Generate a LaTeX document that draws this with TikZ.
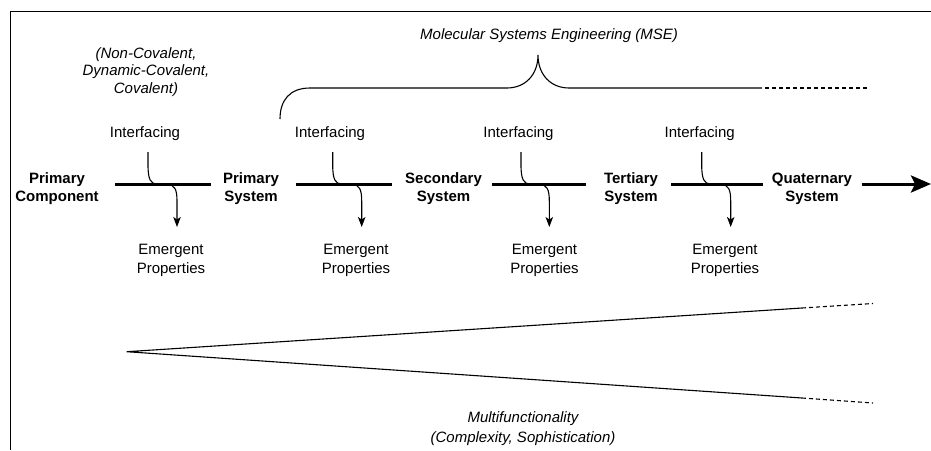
\documentclass[tikz,border=0pt]{standalone}
\usepackage{fontspec}
\setmainfont{Liberation Sans}
\usetikzlibrary{arrows.meta}
\begin{document}
\begin{tikzpicture}[x=1pt,y=-1pt,
  lbl/.style={font=\fontsize{15}{18.5}\selectfont, align=center, inner sep=0pt},
  sys/.style={font=\fontsize{15}{18.5}\selectfont\bfseries, align=center, inner sep=0pt},
  note/.style={font=\fontsize{15}{17.5}\selectfont\itshape, align=center, inner sep=0pt},
  foot/.style={font=\fontsize{15}{20}\selectfont\itshape, align=center, inner sep=0pt},
  bar/.style={line width=3pt},
  thin/.style={line width=1.1pt},
  frame/.style={line width=1.3pt},
  tail/.style={thin, dash pattern=on 4pt off 3pt},
  feed/.style={thin, -{Stealth[length=10pt,width=7.5pt,inset=2.5pt]}},
]
\useasboundingbox (0,0) rectangle (931,450);

% frame
\draw[frame] (10.5,450) -- (10.5,11.5) -- (931,11.5);

% titles
\node[note, anchor=base] (mse) at (549,39.3) {Molecular Systems Engineering (MSE)};
\node[note] (bonds) at (146,72) {(Non-Covalent,\\Dynamic-Covalent,\\Covalent)};

% brace
\coordinate (bl) at (280,119);
\coordinate (bt) at (538,55);
\coordinate (br) at (762,88);
\coordinate (bd) at (765,88);
\coordinate (be) at (867,88);
\draw[thin] (bl) .. controls (280,100) and (290,88) .. (310,88) -- (507,88)
  .. controls (525,88) and (538,75) .. (bt)
  .. controls (538,75) and (551,88) .. (569,88) -- (br);
\draw[tail] (bd) -- (be);

% system labels
\node[sys] (s0) at (57,188.7) {Primary\\Component};
\node[sys] (s1) at (251,188.7) {Primary\\System};
\node[sys] (s2) at (443.5,188.7) {Secondary\\System};
\node[sys] (s3) at (631,188.7) {Tertiary\\System};
\node[sys] (s4) at (812,188.7) {Quaternary\\System};

% interfacing steps: left, interface x, arrow x, right, label x, emergent x
\foreach \n/\L/\I/\A/\R/\ix/\ex in {1/115/148/177/211/145/171,
                                    2/296/332.7/361.7/391.7/330/356,
                                    3/491.7/521/549.3/586/518.5/544.5,
                                    4/671/701.7/730.7/763.3/699.7/725}{
  \node[lbl, anchor=base] (if\n) at (\ix,137.4) {Interfacing};
  \node[lbl] (ep\n) at (\ex,260.5) {Emergent\\Properties};
  \coordinate (bl\n) at (\L,184);
  \coordinate (br\n) at (\R,184);
  \coordinate (fi\n) at (\I,152);
  \coordinate (fo\n) at (\A,227);
  \draw[bar] (bl\n) -- (br\n);
  \draw[feed] (fi\n) -- (\I,165) .. controls (\I,180) and (\I+3,184) .. (\I+9,184)
     -- (\A-11,184) .. controls (\A-2,184) and (\A,190) .. (\A,201) -- (fo\n);
}

% final arrow
\coordinate (fa) at (861.7,184);
\coordinate (fb) at (931,184);
\draw[bar, -{Stealth[length=20pt,width=17pt,inset=4pt]}] (fa) -- (fb);

% wedge
\coordinate (apex) at (126.7,351.7);
\coordinate (u1) at (802,308);
\coordinate (u2) at (873,303.5);
\coordinate (d1) at (802,398);
\coordinate (d2) at (873,403);
\draw[thin] (u1) -- (apex) -- (d1);
\draw[tail] (u1) -- (u2);
\draw[tail] (d1) -- (d2);
\node[foot] (mf) at (523,428.5) {Multifunctionality\\(Complexity, Sophistication)};
\end{tikzpicture}
\end{document}
